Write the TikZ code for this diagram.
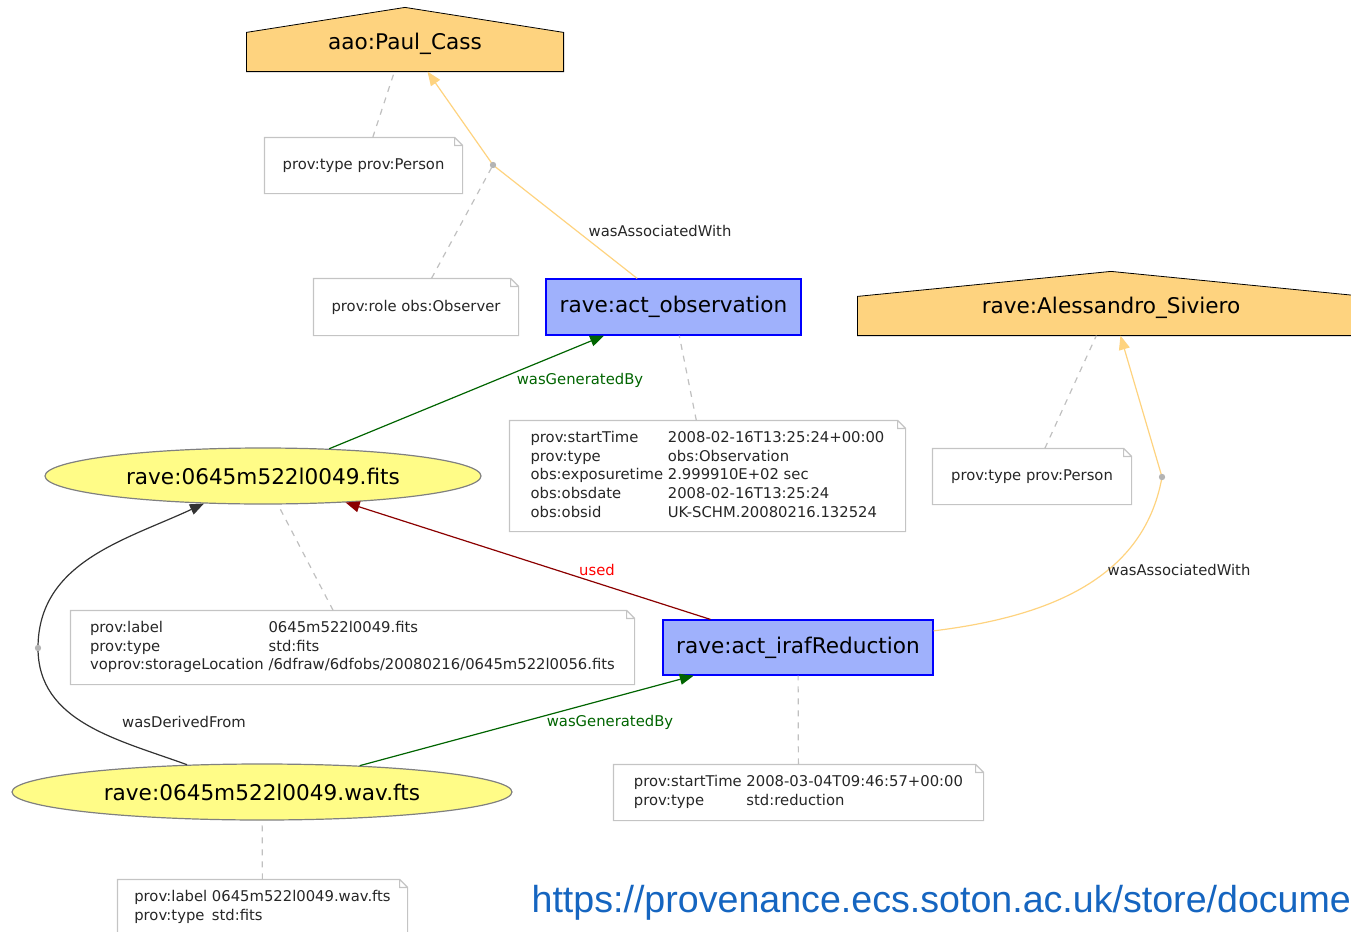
\documentclass[tikz,border=0pt]{standalone}
\usepackage{fontspec}
\setmainfont{DejaVu Sans}
\newfontfamily\urlfont{Liberation Sans}
\usetikzlibrary{shapes.geometric,arrows.meta,backgrounds}
\definecolor{agentfill}{HTML}{FED37F}
\definecolor{actfill}{HTML}{9FB1FC}
\definecolor{entfill}{HTML}{FFFC87}
\definecolor{entline}{HTML}{808080}
\definecolor{noteline}{HTML}{C4C4C4}
\definecolor{dashgray}{HTML}{C0C0C0}
\definecolor{hubgray}{HTML}{B4B4B4}
\definecolor{gengreen}{HTML}{006400}
\definecolor{usedred}{HTML}{8B0000}
\definecolor{urlblue}{HTML}{1565C0}
\newcommand{\headfont}{\fontsize{10.8}{13}\selectfont}
\newcommand{\notefont}{\fontsize{7.4}{9.35}\selectfont}
\begin{document}
\begin{tikzpicture}[x=0.5pt, y=-0.5pt, line width=0.6pt, >={Triangle[length=7pt,width=5.5pt]},
    agent/.style={inner sep=0pt, font=\headfont, text height=10.7pt, text depth=1pt},
    activity/.style={draw=blue, fill=actfill, inner sep=0pt, font=\headfont},
    entity/.style={ellipse, draw=entline, fill=entfill, inner sep=0pt, font=\headfont},
    notebox/.style={inner sep=0pt, font=\notefont, text=black!85, align=left},
    attr/.style={draw=dashgray, dash pattern=on 3pt off 3pt},
    assoc/.style={draw=agentfill},
    gen/.style={draw=gengreen},
    usedline/.style={draw=usedred},
    derived/.style={draw=black!80},
    elabel/.style={font=\notefont, inner sep=0pt, text=black!85}]
    \useasboundingbox (0,0) rectangle (1351,932);
    \clip (0,0) rectangle (1351,932);
    \node [agent, minimum width=158pt, minimum height=31.5pt] (paul) at (405,39.5) {aao:Paul\_Cass};
    \node [agent, minimum width=253pt, minimum height=31.5pt] (siviero) at (1111,303.5) {rave:Alessandro\_Siviero};
    \node [activity, minimum width=127.5pt, minimum height=28pt] (obs) at (673.5,307) {rave:act\_observation};
    \node [activity, minimum width=135pt, minimum height=27.5pt] (iraf) at (798,647.5) {rave:act\_irafReduction};
    \node [entity, minimum width=218pt, minimum height=28pt] (fits) at (263,476) {rave:0645m522l0049.fits};
    \node [entity, minimum width=250pt, minimum height=28pt] (wav) at (262,792) {rave:0645m522l0049.wav.fts};
    \begin{scope}[on background layer]
        \foreach \a in {paul,siviero}
            \filldraw [fill=agentfill, draw=black] (\a.south west) -- ([yshift=-12.5pt]\a.north west) -- (\a.north) -- ([yshift=-12.5pt]\a.north east) -- (\a.south east) -- cycle;
    \end{scope}
    \node [notebox, minimum width=98.5pt, minimum height=27.5pt] (n1) at (363.5,165.5) {prov:type prov:Person};
    \node [notebox, minimum width=102pt, minimum height=28pt] (n2) at (416,307) {prov:role obs:Observer};
    \node [notebox, minimum width=197.5pt, minimum height=55pt] (n3) at (707.5,476) {\begin{tabular}{@{}l@{\ }l@{}}
        prov:startTime & 2008-02-16T13:25:24+00:00\\
        prov:type & obs:Observation\\
        obs:exposuretime & 2.999910E+02 sec\\
        obs:obsdate & 2008-02-16T13:25:24\\
        obs:obsid & UK-SCHM.20080216.132524
    \end{tabular}};
    \node [notebox, minimum width=99pt, minimum height=27.5pt] (n4) at (1032,476.5) {prov:type prov:Person};
    \node [notebox, minimum width=281.5pt, minimum height=36.5pt] (n5) at (352.5,647.5) {\begin{tabular}{@{}l@{\ }l@{}}
        prov:label & 0645m522l0049.fits\\
        prov:type & std:fits\\
        voprov:storageLocation & /6dfraw/6dfobs/20080216/0645m522l0056.fits
    \end{tabular}};
    \node [notebox, minimum width=184.5pt, minimum height=27.5pt] (n6) at (798.5,792.5) {\begin{tabular}{@{}l@{\ }l@{}}
        prov:startTime & 2008-03-04T09:46:57+00:00\\
        prov:type & std:reduction
    \end{tabular}};
    \node [notebox, minimum width=144.5pt, minimum height=27.5pt] (n7) at (262.5,907.5) {\begin{tabular}{@{}l@{\ }l@{}}
        prov:label & 0645m522l0049.wav.fts\\
        prov:type & std:fits
    \end{tabular}};
    \foreach \k in {1,...,7}
        \draw [noteline] (n\k.south west) -- (n\k.north west) -- ([xshift=-4pt]n\k.north east) -- ([yshift=-4pt]n\k.north east) -- (n\k.south east) -- cycle
            ([xshift=-4pt]n\k.north east) |- ([yshift=-4pt]n\k.north east);
    \coordinate (hub1) at (493,165);
    \coordinate (hub2) at (1162,477);
    \coordinate (hub3) at (38,648);
    \draw [attr] (n1) -- (paul);
    \draw [attr] (n2) -- (hub1);
    \draw [attr] (n3) -- (obs);
    \draw [attr] (n4) -- (siviero);
    \draw [attr] (n5) -- (fits);
    \draw [attr] (n6) -- (iraf);
    \draw [attr] (n7) -- (wav);
    \draw [assoc] (obs) -- (hub1);
    \draw [assoc, ->] (hub1) -- (paul);
    \draw [assoc] (iraf) to[out=7, in=-100] (hub2);
    \draw [assoc, ->] (hub2) -- (siviero);
    \draw [gen, ->] (fits) -- (obs);
    \draw [gen, ->] (wav) -- (iraf);
    \draw [usedline, ->] (iraf) -- (fits);
    \draw [derived] (wav) to[out=160, in=-90] (hub3);
    \draw [derived, ->] (hub3) to[out=90, in=205] (fits);
    \foreach \h in {hub1,hub2,hub3}
        \fill [hubgray] (\h) circle (1.6pt);
    \node [elabel] (assoc1) at (660,231) {wasAssociatedWith};
    \node [elabel, text=gengreen] (gen1) at (580,380) {wasGeneratedBy};
    \node [elabel, text=red] (used1) at (597,570) {used};
    \node [elabel] (assoc2) at (1179,570) {wasAssociatedWith};
    \node [elabel, text=gengreen] (gen2) at (610,722) {wasGeneratedBy};
    \node [elabel] (derived1) at (184,722) {wasDerivedFrom};
    \node [anchor=base west, inner sep=0pt, font=\urlfont\fontsize{18.8}{22}\selectfont, text=urlblue] (url) at (531,912) {https://provenance.ecs.soton.ac.uk/store/documen};
\end{tikzpicture}
\end{document}
